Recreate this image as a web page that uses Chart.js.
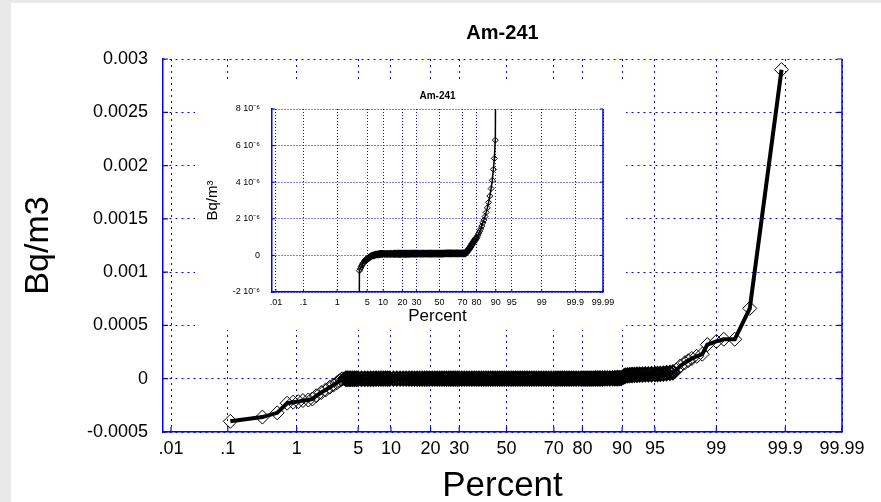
<!DOCTYPE html>
<html>
<head>
<meta charset="utf-8">
<script src="https://cdn.jsdelivr.net/npm/chart.js@4/dist/chart.umd.min.js"></script>
<style>
  html, body { margin: 0; padding: 0; }
  body { background: #e9e9e9; width: 881px; height: 502px; overflow: hidden; position: relative; }
  #panel { position: absolute; left: 11px; top: 3px; width: 870px; height: 499px; background: #ffffff; }
  #main { position: absolute; left: 0; top: 0; }
  #inset { position: absolute; left: 184px; top: 79px; background: #ffffff; }
</style>
</head>
<body>
<div id="panel">
  <canvas id="main" width="870" height="499"></canvas>
  <canvas id="inset" width="431" height="248"></canvas>
</div>
<script>
// ---------------- DATA ----------------
const chartTitle = 'Am-241';
const xTitle = 'Percent';
const yTitleMain = 'Bq/m3';
const yTitleInset = 'Bq/m\u00B3';

// probability-axis ticks (percent) and their labels
const xTickValues = [0.01, 0.1, 1, 5, 10, 20, 30, 50, 70, 80, 90, 95, 99, 99.9, 99.99];
const xTickLabels = ['.01', '.1', '1', '5', '10', '20', '30', '50', '70', '80', '90', '95', '99', '99.9', '99.99'];

const mainYTicks = [-0.0005, 0, 0.0005, 0.001, 0.0015, 0.002, 0.0025, 0.003];
const mainYLabels = ['-0.0005', '0', '0.0005', '0.001', '0.0015', '0.002', '0.0025', '0.003'];

const insetYTicks = [-2e-6, 0, 2e-6, 4e-6, 6e-6, 8e-6];
const insetYLabels = ['-2 10\u207B\u2076', '0', '2 10\u207B\u2076', '4 10\u207B\u2076', '6 10\u207B\u2076', '8 10\u207B\u2076'];

// lower tail (percent, Bq/m3)
const lowTailPct = [0.11, 0.34, 0.55, 0.75, 0.9, 1.05, 1.2, 1.4, 1.57, 1.75, 2.0, 2.25, 2.5, 2.75, 3.0, 3.2, 3.35];
const lowTailVal = [-4.0e-4, -3.6e-4, -3.2e-4, -2.3e-4, -2.2e-4, -2.15e-4, -2.05e-4, -2.0e-4, -1.9e-4, -1.6e-4,
                    -1.3e-4, -1.05e-4, -0.8e-4, -0.6e-4, -0.38e-4, -0.2e-4, -0.06e-4];

// central body (percent, Bq/m3)
const midPct = [
  3.44, 3.6, 3.75, 3.88, 4.05, 4.2, 4.4, 4.6, 4.8, 5.0,
  5.4, 5.8, 6.2, 6.6, 7.0, 7.4, 7.8, 8.2, 8.6, 9.0, 9.4, 9.8,
  10.5, 11.2, 11.9, 12.6, 13.3, 14.0, 14.7, 15.4, 16.1, 16.8, 17.5, 18.2, 18.9, 19.6,
  20.5, 21.3, 22.1, 22.9, 23.7, 24.5, 25.3, 26.1, 26.9, 27.7, 28.5, 29.3,
  30, 31, 32, 33, 34, 35, 36, 37, 38, 39,
  40, 41, 42, 43, 44, 45, 46, 47, 48, 49,
  50, 51, 52, 53, 54, 55, 56, 57, 58, 59,
  60, 61, 62, 63, 64, 65, 66, 67, 68, 69, 70,
  70.8, 71.6, 72.4, 73.2, 74.0, 74.8, 75.6, 76.4, 77.2, 78.0, 78.8, 79.6,
  80.2, 80.8, 81.4, 82.0, 82.6, 83.2, 83.8, 84.4, 85.0, 85.6, 86.2, 86.8, 87.4, 88.0, 88.5, 89.0, 89.4, 89.8];
const midVal = [
  -0.84e-6, -0.72e-6, -0.62e-6, -0.54e-6, -0.46e-6, -0.40e-6, -0.33e-6, -0.28e-6, -0.24e-6, -0.20e-6,
  -0.13e-6, -0.07e-6, -0.03e-6, 0.0, 0.02e-6, 0.04e-6, 0.05e-6, 0.06e-6, 0.07e-6, 0.08e-6, 0.08e-6, 0.08e-6,
  0.08e-6, 0.08e-6, 0.08e-6, 0.085e-6, 0.085e-6, 0.085e-6, 0.085e-6, 0.09e-6, 0.09e-6, 0.09e-6, 0.09e-6, 0.09e-6, 0.09e-6, 0.09e-6,
  0.09e-6, 0.09e-6, 0.09e-6, 0.09e-6, 0.09e-6, 0.09e-6, 0.095e-6, 0.095e-6, 0.095e-6, 0.095e-6, 0.095e-6, 0.095e-6,
  0.095e-6, 0.095e-6, 0.095e-6, 0.1e-6, 0.1e-6, 0.1e-6, 0.1e-6, 0.1e-6, 0.1e-6, 0.1e-6,
  0.1e-6, 0.1e-6, 0.1e-6, 0.1e-6, 0.1e-6, 0.1e-6, 0.1e-6, 0.1e-6, 0.1e-6, 0.1e-6,
  0.1e-6, 0.1e-6, 0.1e-6, 0.1e-6, 0.1e-6, 0.105e-6, 0.105e-6, 0.105e-6, 0.105e-6, 0.105e-6,
  0.105e-6, 0.105e-6, 0.105e-6, 0.11e-6, 0.11e-6, 0.11e-6, 0.11e-6, 0.11e-6, 0.11e-6, 0.11e-6, 0.11e-6,
  0.11e-6, 0.11e-6, 0.12e-6, 0.18e-6, 0.26e-6, 0.34e-6, 0.43e-6, 0.53e-6, 0.63e-6, 0.72e-6, 0.82e-6, 0.92e-6,
  0.98e-6, 1.08e-6, 1.2e-6, 1.32e-6, 1.45e-6, 1.6e-6, 1.78e-6, 1.93e-6, 2.12e-6, 2.35e-6, 2.6e-6, 2.9e-6, 3.25e-6, 3.65e-6, 4.1e-6, 4.7e-6, 5.3e-6, 6.3e-6];

// upper tail (percent, Bq/m3)
const highTailPct = [90.3, 90.6, 91.0, 91.4, 91.8, 92.2, 92.6, 93.0, 93.4, 93.8, 94.2, 94.6, 95.0, 95.3, 95.6, 95.9, 96.2, 96.5, 96.75,
  97.0, 97.3, 97.6, 97.8, 98.0, 98.25, 98.5, 98.7, 99.0, 99.2, 99.43, 99.65, 99.885];
const highTailVal = [2.0e-5, 2.8e-5, 3.2e-5, 3.4e-5, 3.5e-5, 3.6e-5, 3.7e-5, 3.8e-5, 3.9e-5, 4.0e-5, 4.1e-5, 4.2e-5, 4.3e-5, 4.4e-5, 4.6e-5, 4.8e-5, 5.1e-5, 5.5e-5, 6.0e-5,
  8.0e-5, 1.2e-4, 1.5e-4, 1.7e-4, 1.9e-4, 2.1e-4, 2.3e-4, 3.2e-4, 3.5e-4, 3.7e-4, 3.7e-4, 6.6e-4, 2.9e-3];

// ---------------- PROBIT SCALE ----------------
function probit(p) {
  const a = [-3.969683028665376e+01, 2.209460984245205e+02, -2.759285104469687e+02, 1.383577518672690e+02, -3.066479806614716e+01, 2.506628277459239e+00];
  const b = [-5.447609879822406e+01, 1.615858368580409e+02, -1.556989798598866e+02, 6.680131188771972e+01, -1.328068155288572e+01];
  const c = [-7.784894002430293e-03, -3.223964580411365e-01, -2.400758277161838e+00, -2.549732539343734e+00, 4.374664141464968e+00, 2.938163982698783e+00];
  const d = [7.784695709041462e-03, 3.224671290700398e-01, 2.445134137142996e+00, 3.754408661907416e+00];
  const pl = 0.02425, ph = 1 - pl;
  if (p < pl) {
    const q = Math.sqrt(-2 * Math.log(p));
    return (((((c[0]*q+c[1])*q+c[2])*q+c[3])*q+c[4])*q+c[5]) / ((((d[0]*q+d[1])*q+d[2])*q+d[3])*q+1);
  }
  if (p <= ph) {
    const q = p - 0.5, r = q * q;
    return (((((a[0]*r+a[1])*r+a[2])*r+a[3])*r+a[4])*r+a[5])*q / (((((b[0]*r+b[1])*r+b[2])*r+b[3])*r+b[4])*r+1);
  }
  const q = Math.sqrt(-2 * Math.log(1 - p));
  return -(((((c[0]*q+c[1])*q+c[2])*q+c[3])*q+c[4])*q+c[5]) / ((((d[0]*q+d[1])*q+d[2])*q+d[3])*q+1);
}

class ProbitScale extends Chart.Scale {
  parse(raw) { return raw === null || raw === undefined ? null : +raw; }
  determineDataLimits() { this.min = this.options.min; this.max = this.options.max; }
  buildTicks() { return xTickValues.map(v => ({ value: v })); }
  getLabelForValue(v) { return String(v); }
  configure() {
    super.configure();
    this._z0 = probit(this.min / 100);
    this._z1 = probit(this.max / 100);
  }
  getPixelForValue(v) {
    const z = probit(v / 100);
    return this.getPixelForDecimal((z - this._z0) / (this._z1 - this._z0));
  }
  getValueForPixel() { return null; }
}
ProbitScale.id = 'probit';
ProbitScale.defaults = {};
Chart.register(ProbitScale);

// ---------------- FRAME PLUGIN (inner ticks + right border) ----------------
const framePlugin = {
  id: 'frame',
  beforeDatasetsDraw(chart, args, o) {
    const { ctx, chartArea: a, scales: { x, y } } = chart;
    ctx.save();
    ctx.strokeStyle = o.color;
    ctx.lineWidth = o.tickWidth;
    ctx.beginPath();
    y.ticks.forEach(t => {
      const py = y.getPixelForValue(t.value);
      ctx.moveTo(a.left, py); ctx.lineTo(a.left + o.len, py);
      ctx.moveTo(a.right, py); ctx.lineTo(a.right - o.len, py);
    });
    x.ticks.forEach(t => {
      const px = x.getPixelForValue(t.value);
      ctx.moveTo(px, a.bottom); ctx.lineTo(px, a.bottom - o.len);
    });
    ctx.stroke();
    ctx.lineWidth = o.borderWidth;
    ctx.beginPath();
    ctx.moveTo(a.right, a.top); ctx.lineTo(a.right, a.bottom);
    ctx.stroke();
    ctx.restore();
  }
};

// ---------------- BUILD DATA ----------------
const allPct = lowTailPct.concat(midPct, highTailPct);
const allVal = lowTailVal.concat(midVal, highTailVal);
const points = allPct.map((p, i) => ({ x: p, y: allVal[i] }));

const FONT = '"Liberation Sans", Arial, Helvetica, sans-serif';
const BLUE = '#0000ff';
Chart.defaults.font.family = FONT;
Chart.defaults.color = '#000';

// ---------------- MAIN CHART ----------------
new Chart(document.getElementById('main'), {
  type: 'line',
  data: {
    datasets: [{
      data: points,
      borderColor: '#000',
      borderWidth: 4,
      tension: 0,
      pointStyle: 'rectRot',
      pointRadius: 7,
      pointBorderWidth: c => (c.raw && c.raw.x > 3.6 && c.raw.x < 96.8) ? 2 : 1,
      pointBorderColor: '#000',
      pointBackgroundColor: 'rgba(0,0,0,0)'
    }]
  },
  plugins: [framePlugin],
  options: {
    responsive: false,
    devicePixelRatio: 1,
    animation: false,
    events: [],
    layout: { padding: { left: 0, right: 39, top: 0, bottom: 0 } },
    plugins: {
      legend: { display: false },
      tooltip: { enabled: false },
      title: {
        display: true, text: chartTitle, fullSize: false,
        font: { size: 20, weight: 'bold', family: FONT, lineHeight: 1.2 },
        padding: { top: 18, bottom: 14 }, color: '#000'
      },
      frame: { color: BLUE, len: 5, tickWidth: 1.2, borderWidth: 1.5 }
    },
    scales: {
      x: {
        type: 'probit', min: 0.007, max: 99.99,
        afterFit: s => { s.height = 70; },
        grid: { color: BLUE, lineWidth: 1, drawTicks: false },
        border: { display: true, color: BLUE, width: 1.5, dash: [2, 4] },
        ticks: { autoSkip: false, maxRotation: 0, minRotation: 0, padding: 6,
                 font: { size: 18, family: FONT }, color: '#000',
                 callback: (v, i) => xTickLabels[i] },
        title: { display: true, text: xTitle, color: '#000',
                 font: { size: 35, family: FONT, lineHeight: 0.9 }, padding: { top: 0, bottom: 0 } }
      },
      y: {
        type: 'linear', min: -0.0005, max: 0.003,
        afterBuildTicks: s => { s.ticks = mainYTicks.map(v => ({ value: v })); },
        afterFit: s => { s.width = 152; },
        grid: { color: BLUE, lineWidth: 1, drawTicks: false },
        border: { display: true, color: BLUE, width: 1.5, dash: [2, 4] },
        ticks: { padding: 15, font: { size: 18, family: FONT }, color: '#000',
                 callback: (v, i) => mainYLabels[i] },
        title: { display: true, text: yTitleMain, color: '#000',
                 font: { size: 34, family: FONT, lineHeight: 0.9 }, padding: { top: 12.5, bottom: 0 } }
      }
    }
  }
});

// ---------------- INSET CHART ----------------
new Chart(document.getElementById('inset'), {
  type: 'line',
  data: {
    datasets: [{
      data: points,
      borderColor: '#000',
      borderWidth: 1.5,
      tension: 0,
      pointStyle: 'rectRot',
      pointRadius: 3,
      pointBorderWidth: c => (c.raw && c.raw.x > 4.5 && c.raw.x < 80) ? 1.6 : 1,
      pointBorderColor: '#000',
      pointBackgroundColor: 'rgba(0,0,0,0)'
    }]
  },
  plugins: [framePlugin],
  options: {
    responsive: false,
    devicePixelRatio: 1,
    animation: false,
    events: [],
    layout: { padding: { left: 0, right: 23, top: 0, bottom: 0 } },
    plugins: {
      legend: { display: false },
      tooltip: { enabled: false },
      title: {
        display: true, text: chartTitle, fullSize: false,
        font: { size: 10, weight: 'bold', family: FONT, lineHeight: 1.2 },
        padding: { top: 8, bottom: 7 }, color: '#000'
      },
      frame: { color: BLUE, len: 3, tickWidth: 1, borderWidth: 1.5 }
    },
    scales: {
      x: {
        type: 'probit', min: 0.007, max: 99.99,
        afterFit: s => { s.height = 38; },
        grid: { color: BLUE, lineWidth: 1, drawTicks: false },
        border: { display: true, color: BLUE, width: 1.5, dash: [1, 2] },
        ticks: { autoSkip: false, maxRotation: 0, minRotation: 0, padding: 5,
                 font: { size: 9, family: FONT }, color: '#000',
                 callback: (v, i) => xTickLabels[i] },
        title: { display: true, text: xTitle, color: '#000',
                 font: { size: 17, family: FONT, lineHeight: 1 }, padding: { top: 0, bottom: 4.7 } }
      },
      y: {
        type: 'linear', min: -2e-6, max: 8e-6,
        afterBuildTicks: s => { s.ticks = insetYTicks.map(v => ({ value: v })); },
        afterFit: s => { s.width = 77; },
        grid: { color: BLUE, lineWidth: 1, drawTicks: false },
        border: { display: true, color: BLUE, width: 1.5, dash: [1, 2] },
        ticks: { padding: 12, font: { size: 9, family: FONT }, color: '#000',
                 callback: (v, i) => insetYLabels[i] },
        title: { display: true, text: yTitleInset, color: '#000',
                 font: { size: 15, family: FONT, lineHeight: 1 }, padding: { top: 10.5, bottom: 0 } }
      }
    }
  }
});
</script>
</body>
</html>
